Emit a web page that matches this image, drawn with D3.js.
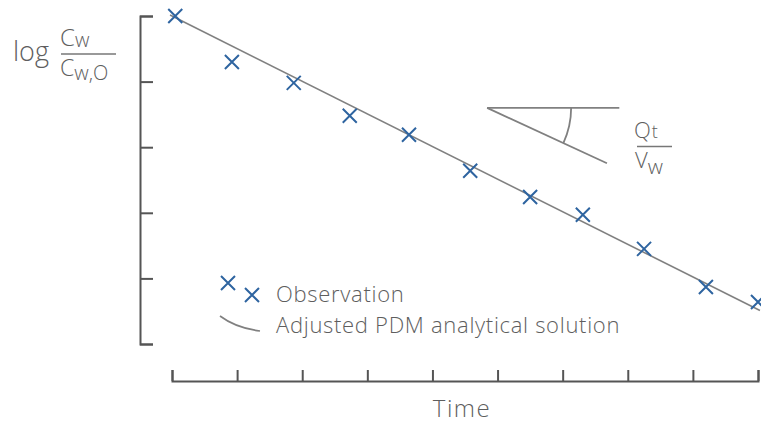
<!DOCTYPE html>
<html>
<head>
<meta charset="utf-8">
<script src="https://cdn.jsdelivr.net/npm/d3@7"></script>
<style>
  body { margin: 0; background: #fff; }
  svg { display: block; font-family: "Open Sans", sans-serif; font-weight: 300; }
  text { fill: #5e5e5e; }
</style>
</head>
<body>
<svg width="761" height="423"></svg>
<script>
// time (tick units) and log(Cw/Cw,0)
const obsTime = [0.05, 0.92, 1.87, 2.73, 3.64, 4.58, 5.5, 6.31, 7.25, 8.2, 9.0];
const obsLogC = [0, -0.70, -1.02, -1.52, -1.81, -2.36, -2.76, -3.03, -3.55, -4.13, -4.36];

// fitted straight line (two end points)
const fitTime = [-0.03, 9.03];
const fitLogC = [0.015, -4.49];

// slope annotation: apex, end of horizontal, end of sloped leg
const angleTime = [4.84, 6.87, 6.68];
const angleLogC = [-1.40, -1.40, -2.245];

const xTicks = [0, 1, 2, 3, 4, 5, 6, 7, 8, 9];
const yTicks = [0, -1, -2, -3, -4, -5];

const svg = d3.select("svg");
const axisColor = "#555";
const markColor = "#2e64a0";

const x = d3.scaleLinear().domain([0, 9]).range([172, 758]);
const y = d3.scaleLinear().domain([0, -5]).range([16, 344]);

// y axis, bracket style
const yAxis = svg.append("g")
    .attr("transform", "translate(140,0)")
    .call(d3.axisRight(y).tickValues(yTicks).tickSize(13).tickSizeOuter(13).tickFormat(""));
yAxis.selectAll("path, line").attr("stroke", axisColor).attr("stroke-width", 2);

// x axis with ticks pointing up
const xAxis = svg.append("g")
    .attr("transform", "translate(0,381)")
    .call(d3.axisTop(x).tickValues(xTicks).tickSize(11).tickSizeOuter(11).tickFormat(""));
xAxis.selectAll("path, line").attr("stroke", axisColor).attr("stroke-width", 2);

svg.append("text")
    .attr("x", 462).attr("y", 417)
    .attr("text-anchor", "middle")
    .style("font-size", "24px")
    .style("letter-spacing", "1.5px")
    .text("Time");

// y label: log Cw / Cw,O
const yl = svg.append("g");
yl.append("text").attr("x", 13).attr("y", 61).style("font-size", "27px").text("log");
yl.append("text").attr("x", 60).attr("y", 46).style("font-size", "24px")
    .text("C").append("tspan").attr("dy", 1).style("font-size", "20px").text("w");
yl.append("line").attr("x1", 61).attr("x2", 116).attr("y1", 54).attr("y2", 54)
    .attr("stroke", "#777").attr("stroke-width", 1.5);
yl.append("text").attr("x", 60).attr("y", 76).style("font-size", "23px")
    .text("C").append("tspan").attr("dy", 4).style("font-size", "20px").text("w,O");

// fitted line
const fit = fitTime.map((t, i) => [t, fitLogC[i]]);
svg.append("path")
    .attr("d", d3.line().x(d => x(d[0])).y(d => y(d[1]))(fit))
    .attr("fill", "none")
    .attr("stroke", "#808080")
    .attr("stroke-width", 1.6);

// observation crosses
const obs = obsTime.map((t, i) => [t, obsLogC[i]]);
svg.append("g").selectAll("path")
    .data(obs)
    .join("path")
    .attr("transform", d => `translate(${x(d[0])},${y(d[1])})`)
    .attr("d", "M-7,-7L7,7M-7,7L7,-7")
    .attr("fill", "none")
    .attr("stroke", markColor)
    .attr("stroke-width", 2);

// slope annotation
const ax0 = x(angleTime[0]), ay0 = y(angleLogC[0]);
const ax1 = x(angleTime[1]), ay1 = y(angleLogC[1]);
const ax2 = x(angleTime[2]), ay2 = y(angleLogC[2]);
const ann = svg.append("g").attr("stroke", "#808080").attr("stroke-width", 1.8).attr("fill", "none");
ann.append("line").attr("x1", ax0).attr("y1", ay0).attr("x2", ax1).attr("y2", ay1);
ann.append("line").attr("x1", ax0).attr("y1", ay0).attr("x2", ax2).attr("y2", ay2);
const r = 84;
const phi = Math.atan2(ay2 - ay0, ax2 - ax0);
ann.append("path")
    .attr("d", `M${ax0 + r},${ay0} A${r},${r} 0 0 1 ${ax0 + r * Math.cos(phi)},${ay0 + r * Math.sin(phi)}`);

const qv = svg.append("g");
qv.append("text").attr("x", 634).attr("y", 138).style("font-size", "22px")
    .text("Q").append("tspan").attr("dx", 1).style("font-size", "18px").text("t");
qv.append("line").attr("x1", 637).attr("x2", 672).attr("y1", 146.5).attr("y2", 146.5)
    .attr("stroke", "#777").attr("stroke-width", 1.5);
qv.append("text").attr("x", 635).attr("y", 168).style("font-size", "22px")
    .text("V").append("tspan").attr("dy", 6).style("font-size", "21px").text("w");

// legend
const leg = svg.append("g");
[[228, 283], [252, 295]].forEach(p => {
  leg.append("path")
    .attr("transform", `translate(${p[0]},${p[1]})`)
    .attr("d", "M-7,-7L7,7M-7,7L7,-7")
    .attr("fill", "none").attr("stroke", markColor).attr("stroke-width", 2);
});
leg.append("path")
    .attr("d", "M220,316 Q236,328 260,331")
    .attr("fill", "none").attr("stroke", "#808080").attr("stroke-width", 1.6);
leg.selectAll("text.lbl")
    .data([["Observation", 302], ["Adjusted PDM analytical solution", 333]])
    .join("text")
    .attr("class", "lbl")
    .attr("x", 276).attr("y", d => d[1])
    .style("font-size", "22px")
    .style("letter-spacing", "0.7px")
    .text(d => d[0]);
</script>
</body>
</html>
